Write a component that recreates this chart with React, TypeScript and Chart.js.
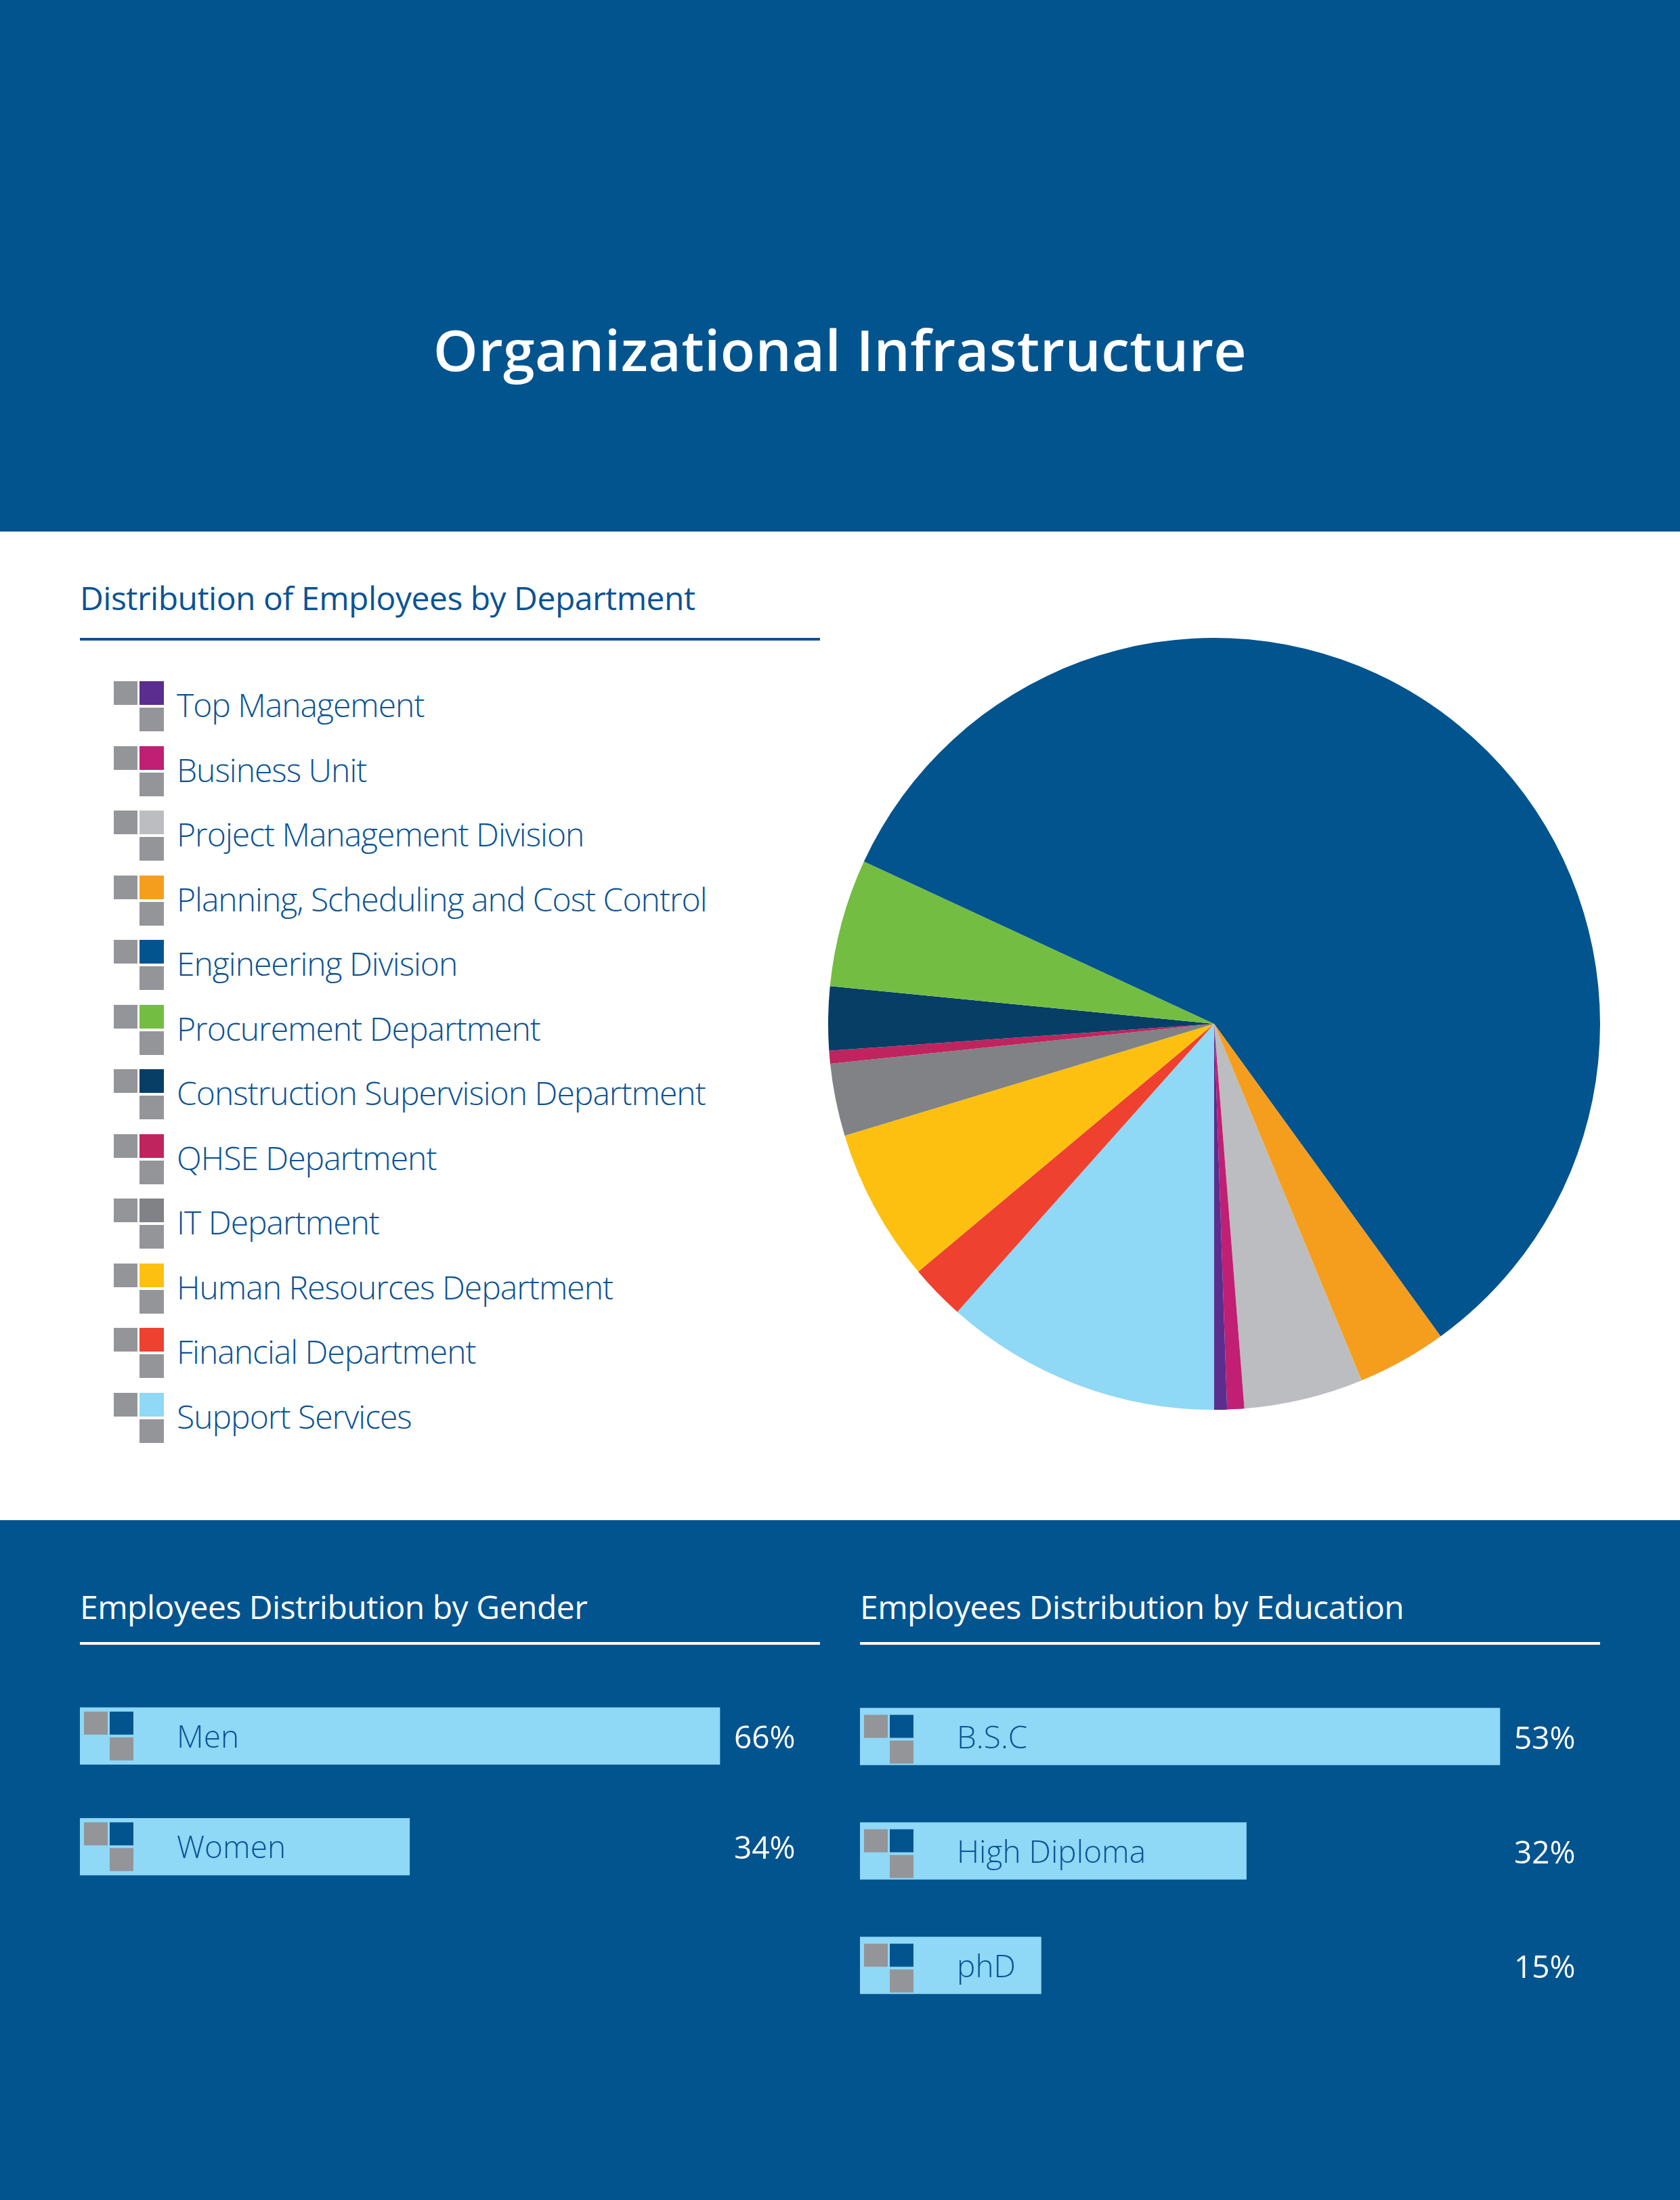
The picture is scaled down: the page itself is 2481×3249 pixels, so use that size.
import React, { useEffect, useRef } from "react";
import { Chart, registerables } from "chart.js";

Chart.register(...registerables);

// ---------- data ----------
const PAGE_TITLE = "Organizational Infrastructure";
const DEPT_TITLE = "Distribution of Employees by Department";
const departments = [
  "Top Management",
  "Business Unit",
  "Project Management Division",
  "Planning, Scheduling and Cost Control",
  "Engineering Division",
  "Procurement Department",
  "Construction Supervision Department",
  "QHSE Department",
  "IT Department",
  "Human Resources Department",
  "Financial Department",
  "Support Services",
];
const departmentValues = [3, 4, 28, 21, 326, 30, 15, 3, 17, 36, 13, 65];
const departmentColors = [
  "#5b2d8e",
  "#c01f73",
  "#bbbdc0",
  "#f59e1e",
  "#02548f",
  "#74bd43",
  "#063e66",
  "#c0245e",
  "#808285",
  "#fdc010",
  "#ee4130",
  "#8fd8f6",
];

const GENDER_TITLE = "Employees Distribution by Gender";
const genderLabels = ["Men", "Women"];
const genderValues = [66, 34];

const EDU_TITLE = "Employees Distribution by Education";
const educationLabels = ["B.S.C", "High Diploma", "phD"];
const educationValues = [53, 32, 15];

// ---------- style ----------
const BLUE = "#02548f";
const TEXT_BLUE = "#0b5394";
const ICON_GRAY = "#939598";
const BAR_BLUE = "#8fd8f6";
const FONT = "'Open Sans', 'Noto Sans', sans-serif";
const BASELINE_RATIO = 0.888; // Open Sans baseline position at line-height 1

function Txt(props: {
  x: number;
  baseline: number;
  size: number;
  weight?: number;
  color: string;
  center?: boolean;
  spacing?: number;
  children: React.ReactNode;
}) {
  const { x, baseline, size, weight = 400, color, center, spacing = 0, children } = props;
  return (
    <div
      style={{
        position: "absolute",
        left: center ? 0 : x,
        width: center ? "100%" : undefined,
        textAlign: center ? "center" : "left",
        top: baseline - BASELINE_RATIO * size,
        fontFamily: FONT,
        fontSize: size,
        fontWeight: weight,
        lineHeight: 1,
        color,
        whiteSpace: "nowrap",
        letterSpacing: spacing,
      }}
    >
      {children}
    </div>
  );
}

function Rect(props: { x: number; y: number; w: number; h: number; color: string }) {
  return (
    <div
      style={{
        position: "absolute",
        left: props.x,
        top: props.y,
        width: props.w,
        height: props.h,
        background: props.color,
      }}
    />
  );
}

function LegendIcon({ x, y, color }: { x: number; y: number; color: string }) {
  return (
    <>
      <Rect x={x} y={y} w={35} h={35} color={ICON_GRAY} />
      <Rect x={x + 38} y={y} w={36} h={35} color={color} />
      <Rect x={x + 38} y={y + 39} w={36} h={35} color={ICON_GRAY} />
    </>
  );
}

function DepartmentPie() {
  const ref = useRef<HTMLCanvasElement>(null);
  useEffect(() => {
    const chart = new Chart(ref.current!, {
      type: "pie",
      data: {
        labels: [...departments].reverse(),
        datasets: [
          {
            data: [...departmentValues].reverse(),
            backgroundColor: [...departmentColors].reverse(),
            borderWidth: 0,
            hoverOffset: 0,
          },
        ],
      },
      options: {
        responsive: false,
        animation: false,
        rotation: 180,
        layout: { padding: 0 },
        plugins: { legend: { display: false }, tooltip: { enabled: false } },
      },
    });
    return () => chart.destroy();
  }, []);
  return (
    <canvas
      ref={ref}
      width={1140}
      height={1140}
      style={{ position: "absolute", left: 1223, top: 942, width: 1140, height: 1140 }}
    />
  );
}

const BAR_CANVAS_W = 1092;
const LONGEST_BAR_PX = 945;

function BarPanel(props: {
  labels: string[];
  values: number[];
  left: number;
  top: number;
  height: number;
  iconDy: number;
}) {
  const { labels, values, left, top, height, iconDy } = props;
  const ref = useRef<HTMLCanvasElement>(null);
  useEffect(() => {
    const decor = {
      id: "decor",
      afterDatasetsDraw(chart: any) {
        const ctx = chart.ctx;
        const meta = chart.getDatasetMeta(0);
        const area = chart.chartArea;
        ctx.save();
        meta.data.forEach((bar: any, i: number) => {
          const bt = bar.y - bar.height / 2;
          const bl = area.left;
          ctx.fillStyle = ICON_GRAY;
          ctx.fillRect(bl + 6, bt + iconDy, 35, 34);
          ctx.fillRect(bl + 44, bt + iconDy + 38, 35, 34);
          ctx.fillStyle = BLUE;
          ctx.fillRect(bl + 44, bt + iconDy, 35, 34);
          ctx.fillStyle = "#ffffff";
          ctx.font = `400 46px ${FONT}`;
          ctx.textAlign = "left";
          ctx.textBaseline = "middle";
          ctx.fillText(`${chart.data.datasets[0].data[i]}%`, bl + 966, bar.y + 5);
        });
        ctx.restore();
      },
    };
    const chart = new Chart(ref.current!, {
      type: "bar",
      data: {
        labels,
        datasets: [
          {
            data: values,
            backgroundColor: BAR_BLUE,
            borderWidth: 0,
            barThickness: 84,
          },
        ],
      },
      options: {
        indexAxis: "y",
        responsive: false,
        animation: false,
        layout: { padding: 0 },
        scales: {
          x: {
            display: false,
            min: 0,
            max: (Math.max(...values) * BAR_CANVAS_W) / LONGEST_BAR_PX,
          },
          y: {
            grid: { display: false, drawTicks: false },
            border: { display: false },
            afterFit: (s: any) => {
              s.width = 0;
              s.paddingTop = 0;
              s.paddingBottom = 0;
              s.paddingLeft = 0;
              s.paddingRight = 0;
            },
            ticks: {
              z: 1,
              mirror: true,
              padding: 143,
              labelOffset: 4,
              color: TEXT_BLUE,
              font: { family: FONT, size: 46, weight: "300" as any },
            },
          },
        },
        plugins: { legend: { display: false }, tooltip: { enabled: false } },
      },
      plugins: [decor],
    });
    return () => chart.destroy();
  }, []);
  return (
    <canvas
      ref={ref}
      width={BAR_CANVAS_W}
      height={height}
      style={{ position: "absolute", left, top, width: BAR_CANVAS_W, height }}
    />
  );
}

export default function App() {
  useEffect(() => {
    document.body.style.margin = "0";
    document.body.style.overflow = "hidden";
  }, []);
  return (
    <div
      style={{
        position: "absolute",
        left: 0,
        top: 0,
        width: 2481,
        height: 3249,
        overflow: "hidden",
        background: "#ffffff",
      }}
    >
      {/* header */}
      <Rect x={0} y={0} w={2481} h={785} color={BLUE} />
      <Txt x={0} baseline={549} size={84} weight={600} color="#ffffff" center spacing={0.4}>
        {PAGE_TITLE}
      </Txt>

      {/* department section */}
      <Txt x={118} baseline={902} size={48} color={TEXT_BLUE} spacing={-0.5}>
        {DEPT_TITLE}
      </Txt>
      <Rect x={118} y={942} w={1093} h={4} color={TEXT_BLUE} />
      {departments.map((d, i) => (
        <React.Fragment key={d}>
          <LegendIcon x={168} y={1006 + i * 95.5} color={departmentColors[i]} />
          <Txt x={261} baseline={1060 + i * 95.5} size={48} weight={300} color={TEXT_BLUE} spacing={-1}>
            {d}
          </Txt>
        </React.Fragment>
      ))}
      <DepartmentPie />

      {/* bottom section */}
      <Rect x={0} y={2245} w={2481} h={1004} color={BLUE} />
      <Txt x={118} baseline={2392} size={48} color="#ffffff" spacing={-0.5}>
        {GENDER_TITLE}
      </Txt>
      <Rect x={118} y={2425} w={1093} h={4} color="#ffffff" />
      <Txt x={1270} baseline={2392} size={48} color="#ffffff" spacing={-0.5}>
        {EDU_TITLE}
      </Txt>
      <Rect x={1270} y={2425} w={1093} h={4} color="#ffffff" />

      <BarPanel labels={genderLabels} values={genderValues} left={118} top={2482} height={327} iconDy={6} />
      <BarPanel labels={educationLabels} values={educationValues} left={1270} top={2480} height={507} iconDy={10} />
    </div>
  );
}
